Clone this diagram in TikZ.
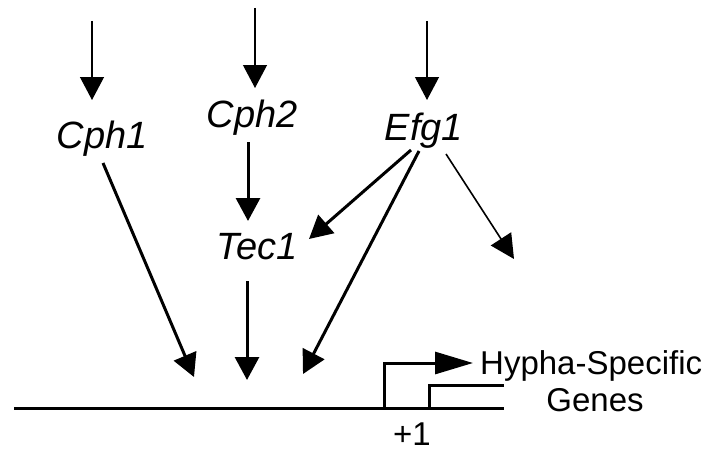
\documentclass[tikz,border=0pt]{standalone}
\usepackage{fontspec}
\setmainfont{Liberation Sans}
\usetikzlibrary{arrows.meta}
\begin{document}
\begin{tikzpicture}[x=1pt,y=-1pt,
  gene/.style={inner sep=0pt,anchor=base,font=\fontsize{38}{40}\selectfont\itshape},
  lab/.style={inner sep=0pt,anchor=base,font=\fontsize{33}{36}\selectfont},
  thin/.style={line width=1.2pt,-{Triangle[length=23pt,width=24pt]}},
  thick/.style={line width=3pt,-{Triangle[length=23pt,width=24pt]}},
  mid/.style={line width=1.6pt,-{Triangle[length=24pt,width=24pt]}},
  dna/.style={line width=3pt}]
\useasboundingbox (0,0) rectangle (708,452);
% labels
\node[gene] (cph1) at (102,148) {Cph1};
\node[gene] (cph2) at (252,127) {Cph2};
\node[gene] (efg1) at (424,140) {Efg1};
\node[gene] (tec1) at (257,259) {Tec1};
\node[lab,anchor=base west] (hyp) at (480,374) {Hypha-Specific};
\node[lab] (genes) at (595,411) {Genes};
\node[lab] (plus) at (412,445) {+1};
% coordinates
\coordinate (in1) at (92,21);
\coordinate (in1e) at (92,100);
\coordinate (in2) at (255,8);
\coordinate (in2e) at (255,88);
\coordinate (in3) at (427,21);
\coordinate (in3e) at (427,100);
\coordinate (c1o) at (103,163);
\coordinate (c2o) at (248,142);
\coordinate (t1i) at (248,221);
\coordinate (t1o) at (247,281);
\coordinate (e1a) at (411,150);
\coordinate (e1b) at (419,151);
\coordinate (e1c) at (446,154);
\coordinate (t1r) at (309,239);
\coordinate (rx) at (514,259);
\coordinate (d1) at (194,377);
\coordinate (d2) at (247,380);
\coordinate (d3) at (303,374);
\coordinate (L) at (14,408);
\coordinate (R) at (504,408);
\coordinate (p0) at (384,408);
\coordinate (p1) at (384,363);
\coordinate (p2) at (473,363);
\coordinate (g0) at (429,408);
\coordinate (g1) at (429,385);
\coordinate (g2) at (504,385);
% input arrows
\draw[thin] (in1) -- (in1e);
\draw[thin] (in2) -- (in2e);
\draw[thin] (in3) -- (in3e);
% regulatory arrows
\draw[thick] (c2o) -- (t1i);
\draw[thick] (c1o) -- (d1);
\draw[thick] (t1o) -- (d2);
\draw[thick] (e1b) -- (d3);
\draw[thick] (e1a) -- (t1r);
\draw[mid] (e1c) -- (rx);
% DNA
\draw[dna] (L) -- (R);
\draw[dna,-{Triangle[length=38pt,width=22pt]}] (p0) -- (p1) -- (p2);
\draw[dna] (g0) -- (g1) -- (g2);
\end{tikzpicture}
\end{document}
